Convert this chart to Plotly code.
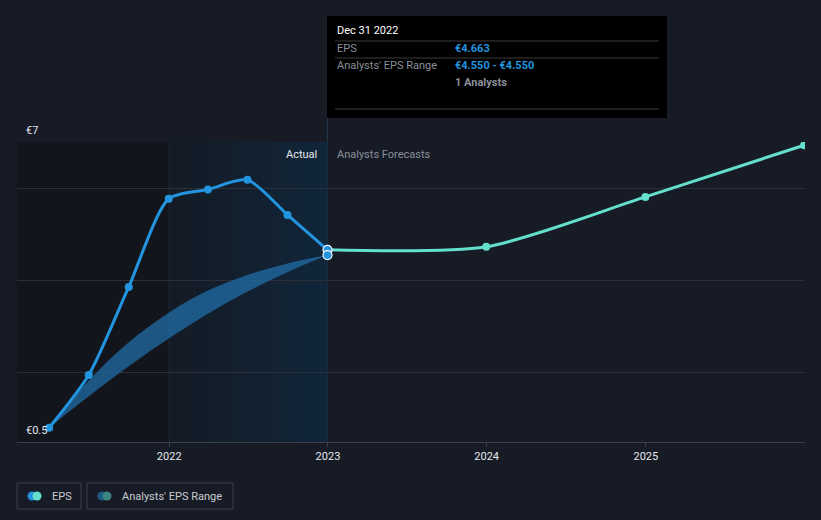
import plotly.graph_objects as go
import pandas as pd

# ---------------- data ----------------
actual_dates = ["2021-03-31", "2021-06-30", "2021-09-30", "2021-12-31",
                "2022-03-31", "2022-06-30", "2022-09-30", "2022-12-31"]
actual_eps = [0.81, 1.95, 3.86, 5.77, 5.97, 6.18, 5.42, 4.663]

forecast_dates = ["2022-12-31", "2023-12-31", "2024-12-31", "2025-12-31"]
forecast_eps = [4.663, 4.73, 5.81, 6.93]

range_dates = actual_dates
range_low = [0.81, 1.49, 2.14, 2.74, 3.28, 3.76, 4.18, 4.55]
range_high = [0.81, 1.83, 2.66, 3.30, 3.78, 4.12, 4.37, 4.55]

x_range = ["2021-01-16", "2026-01-02"]
y_range = [0.5, 7]
y_grid = [2, 4, 6, 7]
x_ticks = ["2022-01-01", "2023-01-01", "2024-01-01", "2025-01-01"]
x_ticklabels = ["2022", "2023", "2024", "2025"]
past_start = "2022-01-01"
last_actual = "2022-12-31"

tooltip_title = "Dec 31 2022"
tooltip_rows = [("EPS", "€4.663"), ("Analysts' EPS Range", "€4.550 - €4.550")]
tooltip_analysts = "1 Analysts"

# ---------------- styling ----------------
BG = "#161b25"
DARK = "#12151c"
BLUE = "#2394df"
TEAL = "#64dfcb"
BAND = "rgba(33,112,172,0.72)"
GRID = "#2a2f38"
FONT = "Roboto, 'Open Sans', sans-serif"

W, H = 821, 520
L, R, T, B = 17, 805, 142, 442


def px(x):
    return (x - L) / (R - L)


def py(y):
    return (B - y) / (B - T)


def mix(c1, c2, t):
    a = [int(c1[i:i + 2], 16) for i in (1, 3, 5)]
    b = [int(c2[i:i + 2], 16) for i in (1, 3, 5)]
    return "rgb(%d,%d,%d)" % tuple(round(a[k] + (b[k] - a[k]) * t) for k in range(3))


fig = go.Figure()

shapes = []
# background regions (below gridlines)
shapes.append(dict(type="rect", xref="x", yref="y", x0=x_range[0], x1=past_start,
                   y0=y_range[0], y1=y_range[1], fillcolor=DARK, line=dict(width=0),
                   layer="below"))
edges = pd.date_range(past_start, last_actual, periods=61)
n = len(edges) - 1
for i in range(n):
    shapes.append(dict(type="rect", xref="x", yref="y", x0=edges[i],
                       x1=edges[min(i + 2, n)],
                       y0=y_range[0], y1=y_range[1],
                       fillcolor=mix("#141b26", "#11263a", i / (n - 1)),
                       line=dict(width=0), layer="below"))

# analysts range band
fig.add_trace(go.Scatter(x=range_dates, y=range_low, mode="lines",
                         line=dict(width=0, shape="spline", smoothing=1),
                         hoverinfo="skip", showlegend=False))
fig.add_trace(go.Scatter(x=range_dates, y=range_high, mode="lines",
                         line=dict(width=0, shape="spline", smoothing=1),
                         fill="tonexty", fillcolor=BAND,
                         hoverinfo="skip", showlegend=False))

# forecast line
fig.add_trace(go.Scatter(x=forecast_dates, y=forecast_eps, mode="lines+markers",
                         line=dict(color=TEAL, width=3, shape="spline", smoothing=0.7),
                         marker=dict(size=8, color=TEAL),
                         showlegend=False))

# actual line
fig.add_trace(go.Scatter(x=actual_dates, y=actual_eps, mode="lines+markers",
                         line=dict(color=BLUE, width=3, shape="spline", smoothing=0.7),
                         marker=dict(size=8, color=BLUE),
                         showlegend=False))

# highlighted markers at the hovered date
fig.add_trace(go.Scatter(x=[last_actual, last_actual], y=[actual_eps[-1], range_low[-1]],
                         mode="markers",
                         marker=dict(size=9, color=BLUE, line=dict(color="white", width=1.2)),
                         showlegend=False))

# vertical boundary lines
shapes.append(dict(type="line", xref="x", yref="y", x0=past_start, x1=past_start,
                   y0=y_range[0], y1=y_range[1], line=dict(color="#1c2b3b", width=1),
                   layer="below"))
shapes.append(dict(type="line", xref="x", yref="paper", x0=last_actual, x1=last_actual,
                   y0=0, y1=py(16), line=dict(color="#23374b", width=1), layer="below"))

# tooltip
shapes.append(dict(type="rect", xref="paper", yref="paper", x0=px(327), x1=px(667),
                   y0=py(118), y1=py(16), fillcolor="#000000", line=dict(width=0)))
for yy in (41, 58, 109):
    shapes.append(dict(type="line", xref="paper", yref="paper", x0=px(335), x1=px(659),
                       y0=py(yy), y1=py(yy), line=dict(color="#3a3a3a", width=1)))

# legend boxes
shapes.append(dict(type="rect", xref="paper", yref="paper", x0=px(17), x1=px(81),
                   y0=py(509), y1=py(483), line=dict(color="#3a3f48", width=1),
                   fillcolor="rgba(0,0,0,0)"))
shapes.append(dict(type="rect", xref="paper", yref="paper", x0=px(87), x1=px(233),
                   y0=py(509), y1=py(483), line=dict(color="#3a3f48", width=1),
                   fillcolor="rgba(0,0,0,0)"))


def circle(cx, cy, r, color):
    return dict(type="circle", xref="paper", yref="paper",
                x0=px(cx - r), x1=px(cx + r), y0=py(cy + r), y1=py(cy - r),
                fillcolor=color, line=dict(width=0))


shapes.append(circle(32, 496, 4.5, BLUE))
shapes.append(circle(37, 496, 4.5, TEAL))
shapes.append(circle(102, 496, 4.5, "#1f5a85"))
shapes.append(circle(107, 496, 4.5, "#3e8580"))

ann = []


def text(x, y, s, color, size=11, anchor="left", bold=False):
    ann.append(dict(xref="paper", yref="paper", x=px(x), y=py(y),
                    text=(f"<b>{s}</b>" if bold else s),
                    showarrow=False, xanchor=anchor, yanchor="middle",
                    font=dict(family=FONT, size=size, color=color)))


text(24, 130, "€7", "#e6e8eb")
text(24, 430, "€0.5", "#e6e8eb")
text(319, 154, "Actual", "#e6e8eb", anchor="right")
text(335, 154, "Analysts Forecasts", "#8a8f98")

text(335, 31, tooltip_title, "#ffffff")
text(335, 49, tooltip_rows[0][0], "#8a8f98")
text(453, 49, tooltip_rows[0][1], BLUE, bold=True)
text(335, 66, tooltip_rows[1][0], "#8a8f98")
text(453, 66, tooltip_rows[1][1], BLUE, bold=True)
text(453, 83, tooltip_analysts, "#8a8f98", bold=True)

text(50, 496, "EPS", "#c9ccd1")
text(120, 496, "Analysts' EPS Range", "#c9ccd1")

fig.update_layout(
    width=W, height=H,
    margin=dict(l=L, r=W - R, t=T, b=H - B),
    paper_bgcolor=BG, plot_bgcolor=BG,
    shapes=shapes, annotations=ann,
    showlegend=False,
    font=dict(family=FONT, size=11, color="#e6e8eb"),
    xaxis=dict(type="date", range=x_range, tickvals=x_ticks, ticktext=x_ticklabels,
               showgrid=False, zeroline=False, showline=True, linecolor="#3a3f48",
               ticks="outside", ticklen=4, tickcolor="#3a3f48",
               tickfont=dict(family=FONT, size=11, color="#e6e8eb")),
    yaxis=dict(range=y_range, tickvals=y_grid, showticklabels=False,
               showgrid=True, gridcolor=GRID, gridwidth=1, zeroline=False,
               showline=False),
)

fig.write_html("out.html",
               config={"displayModeBar": False},
               post_script="document.body.style.margin='0px';"
                           "document.body.style.background='" + BG + "';")
